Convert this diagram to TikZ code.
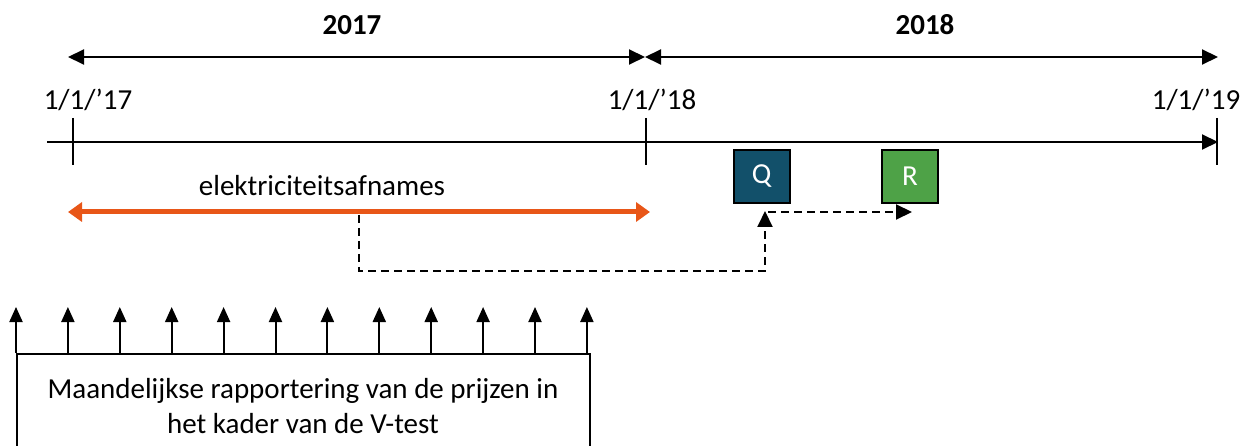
\documentclass[tikz,border=0pt]{standalone}
\usepackage{fontspec}
\setmainfont{Carlito}
\usetikzlibrary{arrows.meta}
\definecolor{qcol}{HTML}{12506A}
\definecolor{rcol}{HTML}{4EA247}
\definecolor{orng}{HTML}{E85618}
\begin{document}
\begin{tikzpicture}[x=1pt,y=-1pt,line width=2pt,
  bigtip/.style={-{Triangle[length=16pt,width=15pt]}},
  bothtip/.style={{Triangle[length=16pt,width=15pt]}-{Triangle[length=16pt,width=15pt]}},
  dashline/.style={line width=2pt,dash pattern=on 8pt off 5pt},
  lbl/.style={font=\fontsize{29}{35}\selectfont,inner sep=0pt},
  yr/.style={font=\fontsize{29}{35}\selectfont\bfseries,inner sep=0pt},
  sq/.style={draw=black,line width=2pt,minimum width=56pt,minimum height=53pt,inner sep=0pt,text=white,font=\fontsize{29}{33}\selectfont}]
\useasboundingbox (0,0) rectangle (1250,446);
% years
\node[yr] (y17) at (352,25) {2017};
\node[yr] (y18) at (925,25) {2018};
\coordinate (a17) at (68,57);
\coordinate (a18) at (645,57);
\coordinate (a19) at (1218,57);
\draw[bothtip] (a17) -- (a18);
\draw[bothtip] (a18) -- (a19);
% dates
\node[lbl] (d17) at (88,100) {1/1/’17};
\node[lbl] (d18) at (652,100) {1/1/’18};
\node[lbl] (d19) at (1196,100) {1/1/’19};
% timeline
\coordinate (t0) at (47,142);
\coordinate (t1) at (1218,142);
\draw[bigtip] (t0) -- (t1);
\foreach \x/\n in {73/k17,646/k18,1217/k19}{
  \coordinate (\n a) at (\x,118);
  \coordinate (\n b) at (\x,165);
  \draw (\n a) -- (\n b);
}
% boxes
\node[sq,fill=qcol] (Q) at (761.5,176.5) {Q};
\node[sq,fill=rcol] (R) at (910,176.5) {R};
% electricity
\node[lbl] (el) at (322,186) {elektriciteitsafnames};
\coordinate (o0) at (68,212);
\coordinate (o1) at (650,212);
\draw[orng,line width=5pt,{Triangle[length=14pt,width=19pt]}-{Triangle[length=14pt,width=19pt]}] (o0) -- (o1);
% dashed connectors
\coordinate (s0) at (359,215);
\coordinate (s1) at (359,271);
\coordinate (s2) at (765,271);
\coordinate (qin) at (765,211);
\draw[dashline,-{Triangle[length=16pt,width=15pt]}] (s0) -- (s1) -- (s2) -- (qin);
\coordinate (q1) at (768,212);
\coordinate (r1) at (912,212);
\draw[dashline,-{Triangle[length=16pt,width=15pt]}] (q1) -- (r1);
% monthly arrows
\foreach \i in {0,...,11}{
  \coordinate (m\i a) at ({16+\i*51.9},353);
  \coordinate (m\i b) at ({16+\i*51.9},307);
  \draw[-{Triangle[length=15pt,width=13pt]}] (m\i a) -- (m\i b);
}
% report box
\node[draw,line width=2pt,anchor=north west,minimum width=573pt,minimum height=120pt,inner sep=0pt] (box) at (16,353) {};
\node[lbl,align=center] (boxtext) at (303,406) {Maandelijkse rapportering van de prijzen in\\het kader van de V-test};
\end{tikzpicture}
\end{document}
